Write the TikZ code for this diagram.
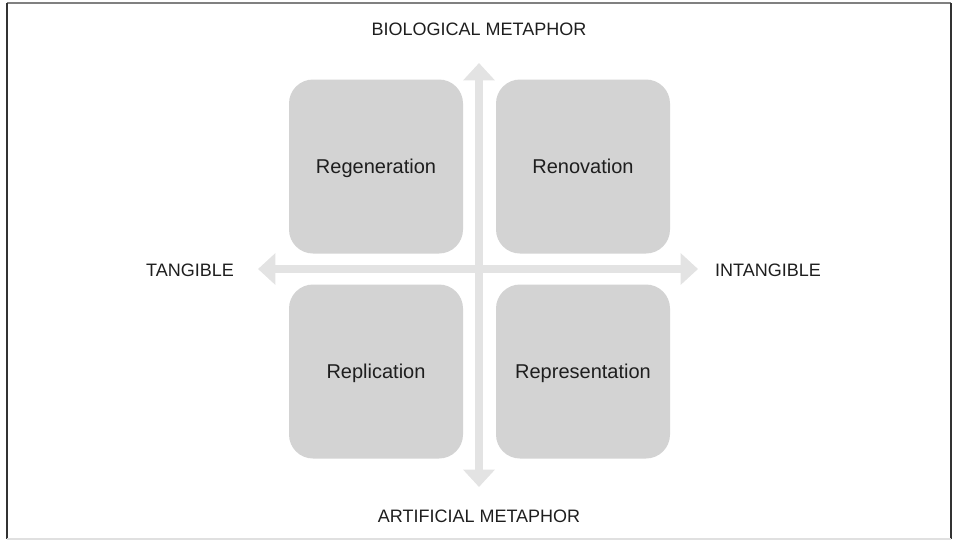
\documentclass[tikz,border=0pt]{standalone}
\usepackage{fontspec}
\setmainfont{Liberation Sans}
\usepackage{tikz}
\usetikzlibrary{arrows.meta,positioning}
\usepackage{xcolor}
\definecolor{QuadGrey}{HTML}{D3D3D3}
\definecolor{AxisGrey}{HTML}{E3E3E3}
\definecolor{FrameDark}{HTML}{333333}
\definecolor{TextDark}{HTML}{1E1E1E}

\begin{document}
\begin{tikzpicture}[x=0.75pt,y=-0.75pt,
    quad/.style={fill=QuadGrey,rounded corners=18pt,minimum width=130.5pt,minimum height=130.5pt,inner sep=0pt,text height=10.7pt,text depth=0.9pt,font=\fontsize{15}{18}\selectfont,text=TextDark},
    axislabel/.style={font=\fontsize{13.5}{16}\selectfont,text=TextDark,inner sep=0pt,text height=9.7pt,text depth=0pt},
    axisline/.style={AxisGrey,line width=6pt,{Triangle[length=13pt,width=23pt]}-{Triangle[length=13pt,width=23pt]}}]
    \useasboundingbox (0,0) rectangle (955,540);
    % frame
    \draw[gray,line width=1.5pt] (6.5,3) -- (951,3);
    \draw[FrameDark,line width=1.5pt] (6.5,3) -- (6.5,539);
    \draw[FrameDark,line width=1.5pt] (951,3) -- (951,539);
    \draw[black!12,line width=1pt] (6.5,539) -- (951,539);
    % axes
    \coordinate (top) at (479,63);
    \coordinate (bottom) at (479,487);
    \coordinate (left) at (258,269);
    \coordinate (right) at (698,269);
    \draw[axisline] (bottom) -- (top);
    \draw[axisline] (left) -- (right);
    % quadrants
    \node[quad] (regen) at (376,166.5) {Regeneration};
    \node[quad] (renov) at (583,166.5) {Renovation};
    \node[quad] (repl) at (376,371.5) {Replication};
    \node[quad] (repr) at (583,371.5) {Representation};
    % axis labels
    \node[axislabel] (bio) at (479,29) {BIOLOGICAL METAPHOR};
    \node[axislabel] (art) at (479,516) {ARTIFICIAL METAPHOR};
    \node[axislabel] (tang) at (190,270) {TANGIBLE};
    \node[axislabel] (intang) at (768,270) {INTANGIBLE};
\end{tikzpicture}
\end{document}
